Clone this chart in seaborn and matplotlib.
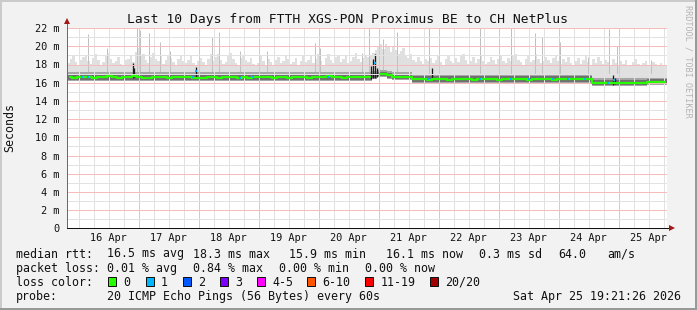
import numpy as np
import pandas as pd
import matplotlib
matplotlib.use("Agg")
import matplotlib.pyplot as plt
from matplotlib.patches import Rectangle
import seaborn as sns

# ---------------- data ----------------
title = "Last 10 Days from FTTH XGS-PON Proximus BE to CH NetPlus"
start = pd.Timestamp("2026-04-15 19:21:26")
day_labels = ["16 Apr", "17 Apr", "18 Apr", "19 Apr", "20 Apr",
              "21 Apr", "22 Apr", "23 Apr", "24 Apr", "25 Apr"]
y_ticks = [0, 2, 4, 6, 8, 10, 12, 14, 16, 18, 20, 22]
y_tick_labels = ["0", "2 m", "4 m", "6 m", "8 m", "10 m", "12 m",
                 "14 m", "16 m", "18 m", "20 m", "22 m"]

# median rtt (ms), 2-hour bins
median_rtt = [
    16.6, 16.55, 16.6, 16.65, 16.6, 16.55, 16.6, 16.65, 16.7, 16.6,
    16.55, 16.6, 16.65, 16.7, 16.6, 16.55, 16.5, 16.6, 16.65, 16.6,
    16.55, 16.6, 16.6, 16.65, 16.6, 16.55, 16.5, 16.55, 16.6, 16.6,
    16.55, 16.6, 16.65, 16.6, 16.55, 16.6, 16.55, 16.6, 16.65, 16.6,
    16.6, 16.55, 16.6, 16.6, 16.55, 16.6, 16.65, 16.6, 16.55, 16.6,
    16.6, 16.65, 16.7, 16.65, 16.6, 16.55, 16.6, 16.6, 16.65, 16.6,
    16.6, 18.3, 16.95, 16.95, 16.8, 16.67, 16.67, 16.65, 16.67, 16.37,
    16.37, 16.4, 16.35, 16.37, 16.4, 16.37, 16.35, 16.37, 16.4, 16.37,
    16.37, 16.35, 16.37, 16.4, 16.37, 16.37, 16.35, 16.4, 16.37, 16.37,
    16.4, 16.37, 16.35, 16.37, 16.37, 16.4, 16.37, 16.35, 16.37, 16.4,
    16.37, 16.37, 16.4, 16.37, 16.37, 15.97, 15.95, 15.97, 16.0, 15.97,
    15.95, 15.97, 15.97, 16.0, 15.97, 15.95, 16.12, 16.12, 16.1, 16.12,
]

# smoke band around the median (ms), 2-hour bins
band_lo = [16.15] * 61 + [16.4, 16.6, 16.6, 16.4] + [16.25] * 4 + [15.95] * 36 + [15.6] * 11 + [15.8] * 4
band_hi = [17.15] * 61 + [17.3, 17.35, 17.35, 17.25] + [17.15] * 4 + [16.9] * 36 + [16.55] * 11 + [16.55] * 4
core_lo = [16.28] * 61 + [16.5, 16.72, 16.72, 16.5] + [16.38] * 4 + [16.07] * 36 + [15.72] * 11 + [15.92] * 4
core_hi = [16.95] * 61 + [17.1, 17.2, 17.2, 17.05] + [16.95] * 4 + [16.7] * 36 + [16.3] * 11 + [16.4] * 4

# upper smoke (ms), 1-hour bins
smoke_top = [
    18.2, 18.6, 18.9, 18.3, 17.9, 18.5, 18.8, 19.0, 18.4, 18.1, 18.7, 19.2,
    18.5, 18.0, 18.3, 18.9, 19.3, 18.6, 18.2, 18.4, 18.8, 18.1, 17.9, 18.5,
    18.6, 19.0, 18.3, 19.4, 19.8, 18.9, 19.1, 18.5, 18.2, 18.8, 19.3, 18.6,
    18.4, 18.9, 18.1, 18.5, 19.0, 18.7, 18.3, 18.0, 18.6, 18.9, 18.4, 18.2,
    18.5, 18.9, 18.2, 17.9, 18.4, 18.7, 18.3, 18.0, 18.6, 19.1, 18.4, 18.8,
    19.2, 18.5, 18.1, 18.3, 18.9, 19.3, 18.6, 18.2, 18.0, 18.7, 19.0, 18.5,
    18.3, 18.7, 18.1, 17.8, 18.2, 18.9, 18.4, 18.0, 18.6, 18.3, 17.9, 18.5,
    18.8, 18.2, 18.4, 19.0, 18.6, 18.1, 18.3, 18.7, 18.0, 18.4, 18.9, 18.3,
    18.5, 18.9, 18.2, 18.6, 19.1, 18.4, 18.0, 18.7, 19.2, 18.5, 18.2, 18.8,
    19.0, 18.3, 18.6, 18.9, 18.2, 18.4, 18.8, 19.3, 18.6, 18.3, 18.7, 18.9,
    18.8, 19.0, 19.3, 19.6, 19.9, 20.2, 19.7, 20.3, 19.9, 19.4, 20.0, 19.6,
    19.2, 19.5, 19.8, 19.0, 18.7, 19.1, 18.5, 18.3, 18.8, 18.4, 18.1, 18.6,
    18.4, 18.7, 18.2, 18.5, 18.9, 18.3, 18.0, 18.6, 19.0, 18.4, 18.2, 18.7,
    18.3, 18.9, 19.2, 18.5, 18.1, 18.4, 18.8, 18.2, 18.6, 19.0, 18.4, 18.1,
    18.3, 18.8, 18.5, 18.1, 18.6, 19.0, 18.4, 18.2, 18.7, 18.4, 18.9, 19.2,
    18.5, 18.3, 18.0, 18.6, 18.9, 18.3, 18.5, 19.1, 18.6, 18.2, 18.4, 18.8,
    18.5, 18.2, 18.7, 19.0, 18.4, 18.1, 18.6, 18.3, 18.8, 18.2, 17.9, 18.4,
    18.7, 18.1, 18.5, 18.9, 18.3, 18.0, 18.6, 18.2, 18.8, 18.4, 18.1, 18.5,
    18.3, 18.0, 18.6, 18.2, 17.9, 18.4, 18.1, 18.5, 18.0, 17.8, 18.3, 18.6,
    18.1, 17.9, 18.2, 18.4, 17.8, 18.0, 18.3, 18.1, 17.9, 18.2, 18.0, 17.8,
]

# isolated tall ping spikes: hour since start, top (ms)
spike_hour = [8.4, 16.0, 28.0, 29.2, 32.8, 37.2, 41.2, 58.0, 60.8, 69.2,
              80.0, 99.2, 101.2, 118.0, 120.8, 126.4, 132.0, 144.8, 148.8, 165.2,
              177.6, 187.2, 190.0, 197.2, 208.4, 216.8, 220.0, 233.6]
spike_top = [21.3, 19.8, 22.0, 21.8, 21.5, 20.5, 19.5, 21.0, 21.6, 19.5,
             19.5, 20.4, 19.8, 19.3, 22.0, 20.8, 21.6, 22.0, 21.8, 22.0,
             22.0, 21.5, 21.0, 20.5, 18.8, 21.9, 20.0, 18.5]

# dense dark smoke columns: hour, low, high (ms)
dark_hour = [26.4, 26.8, 51.6, 121.6, 122.4, 123.2, 124.0, 146.0, 218.4, 219.2]
dark_lo = [16.5, 16.6, 16.5, 16.4, 16.5, 16.5, 16.6, 16.4, 15.8, 15.9]
dark_hi = [18.2, 17.6, 17.7, 17.8, 18.6, 19.1, 17.6, 17.6, 16.9, 16.5]

# median points with 1 packet lost
loss1_hour = [6.0, 8.4, 50.4, 51.6, 69.2, 74.4, 104.4, 123.2, 144.4, 165.2,
              177.6, 184.8, 194.4, 200.4, 207.2, 216.4, 218.8]
loss1_val = [16.6, 16.6, 16.6, 17.3, 16.55, 16.6, 16.6, 18.2, 16.4, 16.4,
             16.4, 16.4, 16.4, 16.4, 16.4, 16.0, 16.3]

loss_colors = ["#26ff00", "#00b8ff", "#0059ff", "#7e00ff", "#ff00ff",
               "#ff5500", "#ff0000", "#a00000"]
loss_labels = ["0", "1", "2", "3", "4-5", "6-10", "11-19", "20/20"]

# ---------------- figure ----------------
W, H = 697, 310
sns.set_theme(style="white")
plt.rcParams["font.family"] = ["DejaVu Sans Mono", "DejaVu Sans"]

BG = "#f2f2f2"
fig = plt.figure(figsize=(W / 100, H / 100), dpi=100, facecolor=BG)
ax = fig.add_axes([67 / W, 1 - 228.3 / H, 600 / W, 200.2 / H])
ax.set_facecolor("white")
ax.set_xlim(0, 240)
ax.set_ylim(0, 22)

PX = 0.72  # one pixel in points

edges2 = np.arange(0, 241, 2)
edges1 = np.arange(0, 241, 1)

# light smoke
ax.stairs(smoke_top, edges1, baseline=np.repeat(band_lo, 2), fill=True,
          color="#e0e0e0", lw=0, zorder=1)
ax.vlines(spike_hour, 17.0, spike_top, color="#c0c0c0", lw=PX * 1.0, zorder=1.1)
# band around median
ax.stairs(band_hi, edges2, baseline=band_lo, fill=True, color="#a6a6a6", lw=0, zorder=1.2)
ax.stairs(core_hi, edges2, baseline=core_lo, fill=True, color="#707070", lw=0, zorder=1.3)
ax.vlines(dark_hour, dark_lo, dark_hi, color="#1a1a1a", lw=PX * 1.3, zorder=1.4)

# grid (thin 1px, light tones matching the dotted look)
first_mid = (pd.Timestamp("2026-04-16") - start) / pd.Timedelta(hours=1)
for h in np.arange(first_mid - 24, 241, 6):
    if 0 < h < 240:
        major = abs(((h - first_mid) % 24)) < 1e-6
        ax.axvline(h, color="#f5bcbc" if major else "#e2e2e2", lw=PX,
                   zorder=2, antialiased=False)
for v in range(1, 23):
    ax.axhline(v, color="#f5bcbc" if v % 2 == 0 else "#e2e2e2", lw=PX,
               zorder=2, antialiased=False)

# median line (seaborn)
med = pd.DataFrame({"hour": edges2[:-1] + 1.0, "median": median_rtt})
med["seg"] = np.cumsum(np.abs(np.diff(med["median"], prepend=med["median"].iloc[0])) > 1.0)
sns.lineplot(data=med, x="hour", y="median", units="seg", estimator=None,
             drawstyle="steps-mid", color=loss_colors[0], lw=PX * 2.2,
             legend=False, ax=ax, zorder=3)
loss_df = pd.DataFrame({"hour": loss1_hour, "val": loss1_val})
sns.scatterplot(data=loss_df, x="hour", y="val", marker="s", s=(PX * 2.6) ** 2,
                color=loss_colors[1], linewidth=0, ax=ax, zorder=4, legend=False)

# axes styling
for s in ["top", "right"]:
    ax.spines[s].set_visible(False)
ax.spines["left"].set_color("#6a6a6a")
ax.spines["left"].set_linewidth(PX)
ax.spines["bottom"].set_color("#111111")
ax.spines["bottom"].set_linewidth(PX)
ax.plot([0, 0], [22, 22.6], color="#6a6a6a", lw=PX, clip_on=False, zorder=5)
ax.plot([0], [22.75], marker="^", ms=5, color="#a01818", mew=0, clip_on=False, zorder=5)
ax.plot([240, 241.5], [0, 0], color="#111111", lw=PX, clip_on=False, zorder=5)
ax.plot([242.0], [0], marker=">", ms=5, color="#a01818", mew=0, clip_on=False, zorder=5)

ax.set_yticks(y_ticks)
ax.set_yticklabels(y_tick_labels)
ax.tick_params(axis="y", length=3, width=PX, direction="inout", pad=4,
               labelsize=7.4, colors="#111111")
noon = [first_mid + 12 + 24 * k for k in range(10)]
ax.set_xticks(noon)
ax.set_xticklabels(day_labels)
ax.tick_params(axis="x", length=0, pad=3.5, labelsize=7.4, colors="#111111")
ax.set_xticks([h for h in np.arange(first_mid, 240, 6)], minor=True)
ax.tick_params(axis="x", which="minor", length=2, width=PX, direction="out", color="#111111")
ax.set_xlabel("")
ax.set_ylabel("")
ax.grid(False)

# texts
fs = 8.4
fig.text(347.7 / W, 1 - 23.3 / H, title, ha="center", va="baseline", fontsize=9.4, color="#111111")
fig.text(10 / W, 1 - 128 / H, "Seconds", rotation=90, ha="center", va="center",
         fontsize=fs, color="#111111")
fig.text(688 / W, 1 - 5 / H, "RRDTOOL / TOBI OETIKER", rotation=270, ha="center",
         va="top", fontsize=6.1, color="#b4b4b4")

def t(x, yb, s):
    fig.text(x / W, 1 - yb / H, s, ha="left", va="baseline", fontsize=fs, color="#111111")

b1, b2, b3, b4 = 257.5, 271.6, 285.7, 299.8
t(16, b1, "median rtt:")
t(107.3, b1, "16.5 ms avg")
t(193.3, b1, "18.3 ms max")
t(289.3, b1, "15.9 ms min")
t(386, b1, "16.1 ms now")
t(479.3, b1, "0.3 ms sd")
t(558.3, b1, "64.0")
t(607.3, b1, "am/s")
t(16, b2, "packet loss:")
t(107.3, b2, "0.01 % avg")
t(193.3, b2, "0.84 % max")
t(279.3, b2, "0.00 % min")
t(365, b2, "0.00 % now")
t(16, b3, "loss color:")
sq_x = [107.7, 145.7, 182.7, 220.0, 257.3, 307.3, 365.0, 430.0]
for sx, c, lab in zip(sq_x, loss_colors, loss_labels):
    fig.add_artist(Rectangle((sx / W, 1 - 285.7 / H), 8 / W, 8.4 / H,
                             transform=fig.transFigure, facecolor=c,
                             edgecolor="#111111", lw=PX))
    t(sx + 15.3, b3, lab)
t(16, b4, "probe:")
t(107.3, b4, "20 ICMP Echo Pings (56 Bytes) every 60s")
fig.text(680.7 / W, 1 - b4 / H, "Sat Apr 25 19:21:26 2026", ha="right", va="baseline",
         fontsize=fs, color="#111111")

# 3D frame
fig.add_artist(Rectangle((0, 1 - 2 / H), 1, 2 / H, transform=fig.transFigure, color="#cbcbcb", lw=0))
fig.add_artist(Rectangle((0, 0), 2 / W, 1, transform=fig.transFigure, color="#cbcbcb", lw=0))
fig.add_artist(Rectangle((0, 0), 1, 2 / H, transform=fig.transFigure, color="#999999", lw=0))
fig.add_artist(Rectangle((1 - 2 / W, 0), 2 / W, 1, transform=fig.transFigure, color="#999999", lw=0))

fig.savefig("out.png", dpi=100, facecolor=BG)
